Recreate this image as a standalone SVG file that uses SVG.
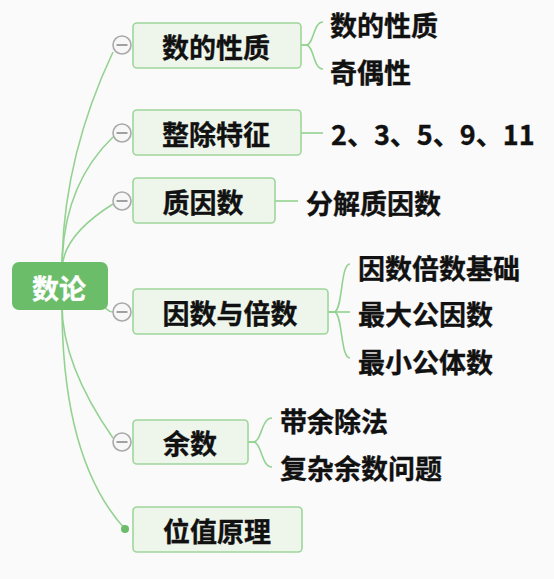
<svg xmlns="http://www.w3.org/2000/svg" width="554" height="579" viewBox="0 0 554 579">
<style>
.bg{fill:#fafafa}
.conn{fill:none;stroke:#94d291;stroke-width:1.6}
.node{fill:#eef6ec;stroke:#9ed69b;stroke-width:1.6}
.root{fill:#6bbd69}
.t{font-family:"Noto Sans CJK SC","Noto Sans",sans-serif;font-weight:bold;font-size:27px;fill:#111;stroke:#111;stroke-width:0.35;dominant-baseline:central}
.c{text-anchor:middle}
.rt{fill:#ffffff;stroke:#ffffff}
.tog{fill:#f7f7f7;stroke:#a9a9a9;stroke-width:1.6}
.minus{stroke:#8a8a8a;stroke-width:1.6}
.dot{fill:#6bbd69}
</style>
<rect class="bg" x="0" y="0" width="554" height="579"/>
<g id="connectors">
<path class="conn" d="M62,270 Q62,160 113,52"/>
<path class="conn" d="M62,270 Q62,186 113,137"/>
<path class="conn" d="M62,270 Q62,236 113,204"/>
<path class="conn" d="M100,300 C105,308 108,312 113,312"/>
<path class="conn" d="M62,305 Q62,365 113,438"/>
<path class="conn" d="M62,305 Q62,460 125,529"/>
<path class="conn" d="M301,45 L306,45 C314,45 313,22 323,22"/>
<path class="conn" d="M301,45 L306,45 C314,45 313,69 323,69"/>
<path class="conn" d="M301,133 L323,133"/>
<path class="conn" d="M275,201 L298,201"/>
<path class="conn" d="M328,312 L334,312 C343,312 340,264 350,264"/>
<path class="conn" d="M328,312 L350,312"/>
<path class="conn" d="M328,312 L334,312 C343,312 340,358 350,358"/>
<path class="conn" d="M248,442 L253,442 C262,442 261,418 272,418"/>
<path class="conn" d="M248,442 L253,442 C262,442 261,467 272,467"/>
</g>
<g id="root">
<rect class="root" x="12" y="262" width="96" height="48" rx="7"/>
<text class="t c rt" x="59" y="287">数论</text>
</g>
<g id="n1">
<rect class="node" x="133" y="23" width="168" height="45" rx="4"/>
<text class="t c" x="216" y="46">数的性质</text>
<circle class="tog" cx="122" cy="45" r="9"/>
<line class="minus" x1="116.5" y1="45" x2="127.5" y2="45"/>
</g>
<g id="n2">
<rect class="node" x="133" y="110" width="168" height="45" rx="4"/>
<text class="t c" x="216" y="133">整除特征</text>
<circle class="tog" cx="122" cy="133" r="9"/>
<line class="minus" x1="116.5" y1="133" x2="127.5" y2="133"/>
</g>
<g id="n3">
<rect class="node" x="133" y="178" width="142" height="45" rx="4"/>
<text class="t c" x="203" y="201">质因数</text>
<circle class="tog" cx="122" cy="201" r="9"/>
<line class="minus" x1="116.5" y1="201" x2="127.5" y2="201"/>
</g>
<g id="n4">
<rect class="node" x="133" y="289" width="195" height="45" rx="4"/>
<text class="t c" x="230" y="312">因数与倍数</text>
<circle class="tog" cx="122" cy="312" r="9"/>
<line class="minus" x1="116.5" y1="312" x2="127.5" y2="312"/>
</g>
<g id="n5">
<rect class="node" x="133" y="420" width="115" height="44" rx="4"/>
<text class="t c" x="190" y="442">余数</text>
<circle class="tog" cx="122" cy="442" r="9"/>
<line class="minus" x1="116.5" y1="442" x2="127.5" y2="442"/>
</g>
<g id="n6">
<rect class="node" x="133" y="507" width="169" height="45" rx="4"/>
<text class="t c" x="217" y="530">位值原理</text>
<circle class="dot" cx="125" cy="529" r="4"/>
</g>
<g id="s1a"><text class="t" x="330" y="24">数的性质</text></g>
<g id="s1b"><text class="t" x="330" y="71">奇偶性</text></g>
<g id="s2"><text class="t" x="331" y="133">2、3、5、9、11</text></g>
<g id="s3"><text class="t" x="306" y="202">分解质因数</text></g>
<g id="s4a"><text class="t" x="358" y="267">因数倍数基础</text></g>
<g id="s4b"><text class="t" x="358" y="313">最大公因数</text></g>
<g id="s4c"><text class="t" x="358" y="361">最小公体数</text></g>
<g id="s5a"><text class="t" x="280" y="420">带余除法</text></g>
<g id="s5b"><text class="t" x="280" y="467">复杂余数问题</text></g>
</svg>
